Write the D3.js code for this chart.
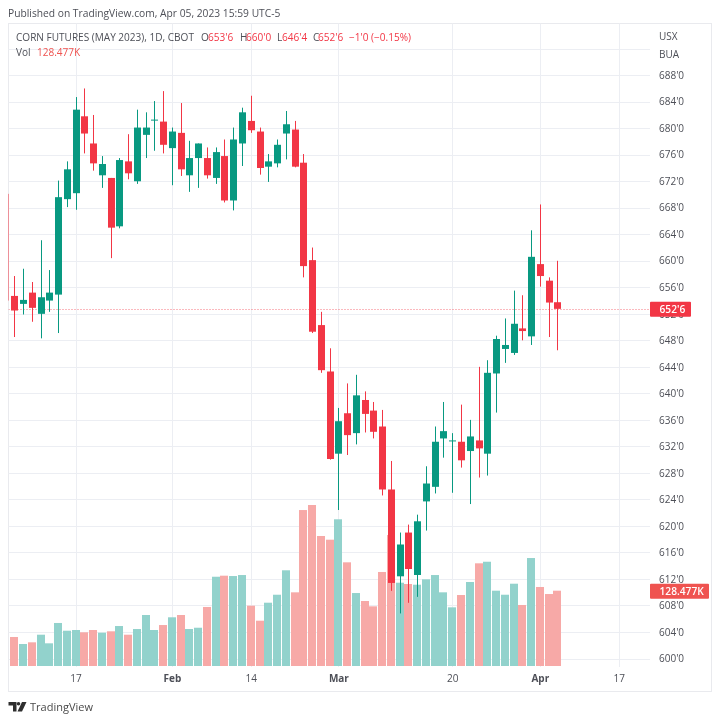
<!DOCTYPE html>
<html>
<head>
<meta charset="utf-8">
<script src="https://cdn.jsdelivr.net/npm/d3@7"></script>
<style>
  html, body { margin: 0; padding: 0; background: #fff; }
  svg { display: block; font-family: "Open Sans", sans-serif; filter: blur(0.3px); }
</style>
</head>
<body>
<div id="chart"></div>
<script>
// trading days, Jan 4 is only just visible at the left edge of the pane
const dates = ["2023-01-04","2023-01-05","2023-01-06","2023-01-09","2023-01-10","2023-01-11","2023-01-12","2023-01-13","2023-01-17","2023-01-18","2023-01-19","2023-01-20","2023-01-23","2023-01-24","2023-01-25","2023-01-26","2023-01-27","2023-01-30","2023-01-31","2023-02-01","2023-02-02","2023-02-03","2023-02-06","2023-02-07","2023-02-08","2023-02-09","2023-02-10","2023-02-13","2023-02-14","2023-02-15","2023-02-16","2023-02-17","2023-02-21","2023-02-22","2023-02-23","2023-02-24","2023-02-27","2023-02-28","2023-03-01","2023-03-02","2023-03-03","2023-03-06","2023-03-07","2023-03-08","2023-03-09","2023-03-10","2023-03-13","2023-03-14","2023-03-15","2023-03-16","2023-03-17","2023-03-20","2023-03-21","2023-03-22","2023-03-23","2023-03-24","2023-03-27","2023-03-28","2023-03-29","2023-03-30","2023-03-31","2023-04-03","2023-04-04","2023-04-05"]
const futureDates = ["2023-04-06","2023-04-10","2023-04-11","2023-04-12","2023-04-13","2023-04-14","2023-04-17"]

const opens = [670.1,654.7,653.5,655.2,652.0,654.0,654.9,669.3,670.2,681.8,677.7,672.9,672.5,665.2,675.0,672.0,679.0,681.3,681.0,677.0,679.3,672.9,675.5,675.5,672.5,675.8,669.1,677.7,681.1,679.5,674.2,674.7,679.2,679.8,674.8,660.1,650.3,643.3,630.9,637.0,634.0,639.0,637.4,635.0,625.5,612.4,619.0,612.6,623.7,625.9,633.2,632.9,632.7,631.3,632.9,630.9,643.0,646.7,646.1,649.8,648.6,659.5,657.0,653.75]
const highs = [670.1,657.7,658.8,656.8,663.1,658.6,672.1,675.0,684.7,686.0,682.0,675.8,672.5,675.5,679.1,682.8,682.4,684.1,685.6,680.1,683.8,678.1,677.7,677.1,677.1,678.3,680.1,683.1,684.9,680.1,676.1,678.3,682.6,681.1,676.1,662.0,652.3,646.8,637.8,641.5,642.8,640.3,638.7,637.5,629.8,619.0,620.2,621.7,629.0,635.0,638.7,634.0,638.3,636.0,644.0,645.0,648.7,651.3,655.5,654.8,664.6,668.5,657.5,660.0]
const lows = [654.0,648.5,651.9,650.8,648.3,652.3,649.1,668.1,667.7,676.2,673.6,671.0,660.4,664.9,672.3,671.6,675.5,676.6,676.2,671.4,672.8,670.4,671.0,672.4,671.6,668.8,667.6,674.3,679.3,673.0,671.9,674.1,675.3,674.1,657.5,649.1,643.1,630.0,622.4,630.7,632.3,634.1,633.2,624.6,610.2,606.8,608.4,609.3,619.3,624.9,630.3,625.0,628.8,623.3,627.3,627.6,637.1,644.6,645.8,648.0,647.3,656.1,648.5,646.5]
const closes = [654.0,652.5,654.1,652.9,654.5,655.2,669.6,673.8,682.8,679.2,674.7,674.6,665.0,675.2,673.2,680.1,680.1,681.3,677.5,679.5,673.8,675.5,677.7,672.9,676.4,669.1,678.3,682.4,679.7,674.0,675.0,677.5,680.6,674.2,659.2,649.3,643.5,630.1,635.8,633.7,639.7,636.9,634.2,625.5,611.4,617.2,613.5,620.7,626.4,632.7,634.3,632.9,629.9,633.5,631.7,643.1,648.2,647.3,650.5,649.4,660.6,657.7,653.7,652.75]
const volumes = [null,49.5,37.5,40.4,53.4,38.7,73.4,60.2,61.4,57.5,61.4,56.8,59.2,68.2,53.4,63.1,87.0,61.4,69.9,83.1,87.0,63.1,65.3,100.7,152.3,154.1,153.5,155.2,102.9,77.3,108.0,121.6,163.3,125.7,266.1,274.7,221.8,215.5,250.3,176.9,124.5,110.9,101.8,160.4,223.5,142.1,139.9,138.7,147.9,155.2,125.7,100.1,121.1,143.3,175.2,177.9,128.5,121.6,140.4,104.1,184.2,134.8,122.8,128.477]

const priceTicks = d3.range(600, 692, 4)
const priceGrid = d3.range(600, 696, 4)
const timeTicks = [["2023-01-17","17"],["2023-02-01","Feb"],["2023-02-14","14"],["2023-03-01","Mar"],["2023-03-20","20"],["2023-04-03","Apr"],["2023-04-17","17"]]
const monthLabels = ["Feb","Mar","Apr"]

const legendParts = [["CORN FUTURES (MAY 2023), 1D, CBOT","d"],["O","d"],["653'6","r"],["H","d"],["660'0","r"],["L","d"],["646'4","r"],["C","d"],["652'6","r"],["\u22121'0 (\u22120.15%)","r"]]

const upColor = "#089981"
const downColor = "#f23645"
const upVolume = "#92d2cc"
const downVolume = "#f7a9a7"
const gridColor = "#eceef3"
const textColor = "#4d4f57"

const width = 720
const height = 722
const pane = {left: 8.5, top: 23.5, right: 711.5, bottom: 691.5, plotRight: 650, plotBottom: 667}
const legendX = [16, 201, 208, 240, 246, 277, 282, 313, 318, 349]

const x = d3.scalePoint().domain(dates.concat(futureDates)).range([5.49, 618.7])
const y = d3.scaleLinear().domain([600, 688]).range([658.5, 75.2])
const yVol = d3.scaleLinear().domain([0, 128.477]).range([666, 590.7])

const svg = d3.select("#chart").append("svg")
    .attr("width", width)
    .attr("height", height)
    .attr("viewBox", [0, 0, width, height])

svg.append("rect").attr("width", width).attr("height", height).attr("fill", "#fff")

svg.append("defs").append("clipPath").attr("id", "plot")
  .append("rect")
    .attr("x", pane.left)
    .attr("y", pane.top)
    .attr("width", pane.plotRight - pane.left)
    .attr("height", pane.plotBottom - pane.top)

svg.append("text")
    .attr("x", 8)
    .attr("y", 17)
    .attr("fill", textColor)
    .attr("font-size", 10.25)
    .text("Published on TradingView.com, Apr 05, 2023 15:59 UTC-5")

// pane frame, under the candles so the clipped first bar still shows
svg.append("rect")
    .attr("x", pane.left)
    .attr("y", pane.top)
    .attr("width", pane.right - pane.left)
    .attr("height", pane.bottom - pane.top)
    .attr("fill", "none")
    .attr("stroke", "#e9eaee")

// grid
svg.append("g").selectAll("line").data(priceGrid).join("line")
    .attr("x1", pane.left)
    .attr("x2", pane.plotRight)
    .attr("y1", d => Math.round(y(d)) + 0.5)
    .attr("y2", d => Math.round(y(d)) + 0.5)
    .attr("stroke", gridColor)

svg.append("g").selectAll("line").data(timeTicks).join("line")
    .attr("x1", d => Math.round(x(d[0])) + 0.5)
    .attr("x2", d => Math.round(x(d[0])) + 0.5)
    .attr("y1", pane.top)
    .attr("y2", pane.plotBottom)
    .attr("stroke", gridColor)

const plot = svg.append("g").attr("clip-path", "url(#plot)")

// volume goes under the candles
const rows = dates.map((d, i) => ({date: d, o: opens[i], h: highs[i], l: lows[i], c: closes[i], v: volumes[i]}))

plot.append("g").selectAll("rect").data(rows.filter(d => d.v !== null)).join("rect")
    .attr("x", d => Math.round(x(d.date)) - 4)
    .attr("width", 8)
    .attr("y", d => yVol(d.v))
    .attr("height", d => yVol(0) - yVol(d.v))
    .attr("fill", d => d.c >= d.o ? upVolume : downVolume)

// last price line
plot.append("line")
    .attr("x1", pane.left)
    .attr("x2", pane.plotRight)
    .attr("y1", Math.round(y(closes[closes.length - 1])) + 0.5)
    .attr("y2", Math.round(y(closes[closes.length - 1])) + 0.5)
    .attr("stroke", downColor)
    .attr("stroke-opacity", 0.7)
    .attr("stroke-dasharray", "1,2")

const candles = plot.append("g").selectAll("g").data(rows).join("g")
    .attr("fill", d => d.c >= d.o ? upColor : downColor)
    .attr("stroke", d => d.c >= d.o ? upColor : downColor)

candles.append("line")
    .attr("x1", d => Math.round(x(d.date)) + 0.5)
    .attr("x2", d => Math.round(x(d.date)) + 0.5)
    .attr("y1", d => y(d.h))
    .attr("y2", d => y(d.l))

candles.append("rect")
    .attr("x", d => Math.round(x(d.date)) - 3)
    .attr("width", 7)
    .attr("y", d => y(Math.max(d.o, d.c)))
    .attr("height", d => Math.max(1, Math.abs(y(d.o) - y(d.c))))
    .attr("stroke", "none")

// axes
svg.append("g")
    .attr("transform", `translate(${pane.plotRight},0)`)
    .call(d3.axisRight(y).tickValues(priceTicks).tickSize(0).tickPadding(9).tickFormat(d => `${d}'0`))
    .call(g => g.select(".domain").remove())
    .call(g => g.selectAll("text")
        .attr("fill", textColor)
        .attr("font-family", "\"Open Sans\", sans-serif")
        .attr("font-size", 10))

svg.append("g")
    .attr("transform", `translate(0,${pane.plotBottom})`)
    .call(d3.axisBottom(x).tickValues(timeTicks.map(d => d[0])).tickSize(0).tickPadding(8)
        .tickFormat(d => timeTicks.find(t => t[0] === d)[1]))
    .call(g => g.select(".domain").remove())
    .call(g => g.selectAll("text")
        .attr("fill", textColor)
        .attr("font-family", "\"Open Sans\", sans-serif")
        .attr("font-size", 10)
        .attr("font-weight", function() { return monthLabels.includes(this.textContent) ? 700 : 400 }))

svg.append("text").attr("x", 659).attr("y", 40).attr("fill", textColor).attr("font-size", 10).text("USX")
svg.append("text").attr("x", 659).attr("y", 57.5).attr("fill", textColor).attr("font-size", 10).text("BUA")

// legend
svg.append("text")
    .attr("y", 41)
    .attr("font-size", 10.05)
  .selectAll("tspan").data(legendParts).join("tspan")
    .attr("x", (d, i) => legendX[i])
    .attr("fill", d => d[1] === "r" ? downColor : textColor)
    .text(d => d[0])

svg.append("text")
    .attr("y", 56)
    .attr("font-size", 10.05)
  .selectAll("tspan").data([["Vol", textColor, 16], ["128.477K", "#ef5350", 37]]).join("tspan")
    .attr("x", d => d[2])
    .attr("fill", d => d[1])
    .text(d => d[0])

// value labels on the price scale
const labels = [{text: "652'6", value: y(closes[closes.length - 1]), w: 41, fill: downColor},
                {text: "128.477K", value: yVol(volumes[volumes.length - 1]), w: 59, fill: "#ef5350"}]

const tags = svg.append("g").selectAll("g").data(labels).join("g")
    .attr("transform", d => `translate(${pane.plotRight},${d.value})`)

tags.append("rect")
    .attr("y", -7)
    .attr("width", d => d.w)
    .attr("height", 15)
    .attr("rx", 1)
    .attr("fill", d => d.fill)

tags.append("text")
    .attr("x", 9.5)
    .attr("y", 4.5)
    .attr("fill", "#fff")
    .attr("font-size", 10.2)
    .attr("font-weight", 600)
    .text(d => d.text)

// footer logo
const logo = svg.append("g").attr("transform", "translate(8.5,702)").attr("fill", "#2e2e2e")
logo.append("path").attr("d", "M0 0H8V9.5H4.5V3.5H0Z")
logo.append("circle").attr("cx", 10).attr("cy", 1.8).attr("r", 1.8)
logo.append("path").attr("d", "M13.5 0H18L13.5 9.5H9Z")

svg.append("text")
    .attr("x", 30)
    .attr("y", 710.5)
    .attr("fill", "#4a4a4a")
    .attr("font-size", 11)
    .text("TradingView")
</script>
</body>
</html>
